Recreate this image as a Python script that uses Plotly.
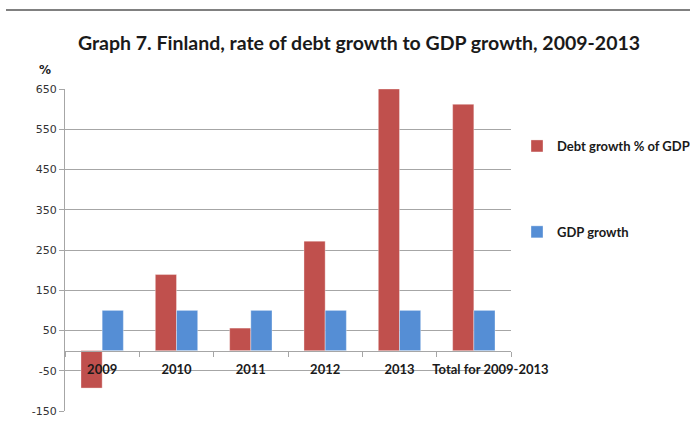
import plotly.graph_objects as go

categories = ["2009", "2010", "2011", "2012", "2013", "Total for 2009-2013"]
debt_growth = [-93, 189, 56, 272, 650, 612]
gdp_growth = [100, 100, 100, 100, 100, 100]
y_ticks = [-150, -50, 50, 150, 250, 350, 450, 550, 650]

W, H = 690, 441
L, R, T, B = 65, 179, 89, 30
pw, ph = W - L - R, H - T - B

def px_x(x):
    return (x - L) / pw

def px_y(y):
    return (H - B - y) / ph

NB = "\u00a0"
cat_text = ["<b>" + c + "</b>" for c in categories]
cat_text[-1] = NB * 10 + cat_text[-1]

fig = go.Figure()
fig.add_trace(go.Bar(
    x=categories, y=debt_growth, name="<b>Debt growth % of GDP</b>",
    marker=dict(color="#C0504D", line=dict(color="rgba(255,255,255,0.35)", width=1)),
    legendgroup="a",
))
fig.add_trace(go.Bar(
    x=categories, y=gdp_growth, name="<b>GDP growth</b>",
    marker=dict(color="#558ED5", line=dict(color="rgba(255,255,255,0.35)", width=1)),
    legendgroup="b",
))

fig.update_layout(
    width=W, height=H,
    margin=dict(l=L, r=R, t=T, b=B, autoexpand=False),
    paper_bgcolor="white", plot_bgcolor="white",
    barmode="group", bargap=0.43, bargroupgap=0,
    title=dict(text="<b>Graph 7. Finland, rate of debt growth to GDP growth, 2009-2013</b>",
               x=359 / W, xanchor="center", y=1 - 43 / H, yanchor="middle",
               font=dict(family="Lato, Carlito, sans-serif", size=19.5, color="#1a1a1a")),
    font=dict(family="Lato, Carlito, sans-serif", color="#1a1a1a"),
    legend=dict(x=px_x(517), y=px_y(131), xanchor="left", yanchor="top",
                traceorder="grouped", tracegroupgap=66,
                font=dict(family="Lato, Carlito, sans-serif", size=13, color="#1a1a1a"),
                bgcolor="rgba(0,0,0,0)", itemwidth=30),
    showlegend=True,
)
fig.update_yaxes(
    range=[-150, 650], tickvals=y_ticks, ticktext=[str(v) for v in y_ticks],
    showgrid=True, gridcolor="#A6A6A6", gridwidth=1,
    showline=True, linecolor="#A6A6A6", linewidth=1,
    ticks="outside", ticklen=5, tickcolor="#A6A6A6",
    tickfont=dict(family="DejaVu Sans, Verdana, sans-serif", size=11, color="#333333"),
    zeroline=False, domain=[0, 1], automargin=False,
)
fig.update_xaxes(
    type="category", anchor="free", position=150 / 800,
    tickvals=categories, ticktext=cat_text, tickangle=0,
    showline=True, linecolor="#A6A6A6", linewidth=1,
    ticks="outside", ticklen=5, tickcolor="#A6A6A6", tickson="boundaries",
    showgrid=False, ticklabelstandoff=7, automargin=False,
    tickfont=dict(family="Lato, Carlito, sans-serif", size=13, color="#1a1a1a"),
)
fig.add_annotation(text="<b>%</b>", xref="paper", yref="paper", x=px_x(45), y=px_y(70),
                   xanchor="center", yanchor="middle",
                   showarrow=False, font=dict(family="DejaVu Sans, sans-serif", size=12, color="#1a1a1a"))
fig.add_shape(type="line", xref="paper", yref="paper", x0=px_x(6), x1=px_x(690),
              y0=px_y(10), y1=px_y(10), line=dict(color="#808080", width=2))

fig.write_html("out.html", config={"displayModeBar": False},
               post_script="document.body.style.margin='0';document.body.style.overflow='hidden';")
